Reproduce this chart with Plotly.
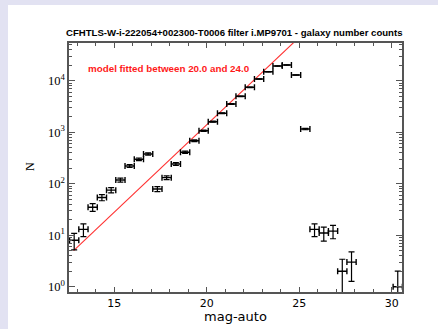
import numpy as np
import plotly.graph_objects as go

# ---- data ----
mag = [12.83, 13.33, 13.83, 14.33, 14.83, 15.33, 15.83, 16.33, 16.83, 17.33,
       17.83, 18.33, 18.83, 19.33, 19.83, 20.33, 20.83, 21.33, 21.83, 22.33,
       22.83, 23.33, 23.83, 24.33, 24.83, 25.33, 25.83, 26.33, 26.83, 27.33,
       27.83, 30.33]
counts = [8, 13, 35, 54, 75, 118, 221, 298, 378, 79,
          131, 241, 407, 684, 1070, 1600, 2330, 3530, 4980, 7450,
          10800, 14960, 19300, 20200, 12900, 1150, 13, 11, 12, 2,
          3, 1]
bin_half = 0.25
model_mag = [12.8, 24.7]
model_N = [5.0, 55000.0]

title = "CFHTLS-W-i-222054+002300-T0006 filter i.MP9701 - galaxy number counts"
note = "model fitted between 20.0 and 24.0"
xlabel = "mag-auto"
ylabel = "N"
ytickvals = [1, 10, 100, 1000, 10000]
yticktext = ["10<sup>0</sup>", "10<sup>1</sup>", "10<sup>2</sup>", "10<sup>3</sup>", "10<sup>4</sup>"]

N = np.array(counts, dtype=float)
err = np.sqrt(N)
err_minus = np.minimum(err, 0.999 * N)

# plot-area geometry in pixels (for layout only)
L, R, T, B, W, H = 69, 402, 43, 292, 438, 329
pw, ph = R - L, B - T
def px(x):
    return (x - L) / pw
def py(y):
    return (B - y) / ph

fig = go.Figure()
fig.add_trace(go.Scatter(
    x=model_mag, y=model_N, mode="lines",
    line=dict(color="#ff3030", width=1.1), showlegend=False, hoverinfo="skip"))
fig.add_trace(go.Scatter(
    x=mag, y=counts, mode="markers",
    marker=dict(size=1, color="black"),
    error_x=dict(type="constant", value=bin_half, color="black", thickness=1.4, width=3),
    error_y=dict(type="data", array=err, arrayminus=err_minus, symmetric=False,
                 color="black", thickness=1.2, width=3),
    showlegend=False))

axis_common = dict(showline=True, linecolor="#555555", linewidth=1.5, mirror="ticks",
                   ticks="inside", tickcolor="#555555", showgrid=False, zeroline=False,
                   automargin=False)

fig.update_xaxes(range=[12.55, 30.56], dtick=5, tick0=0, ticklen=5, tickwidth=1.2,
                 tickfont=dict(family="DejaVu Sans", size=11, color="black"),
                 minor=dict(dtick=1, ticks="inside", ticklen=3, tickcolor="#555555", tickwidth=1.2),
                 **axis_common)
fig.update_yaxes(type="log", range=[-0.103, 4.732], tickvals=ytickvals, ticktext=yticktext,
                 ticklen=6, tickwidth=1.2,
                 tickfont=dict(family="Liberation Serif", size=12.5, color="black"),
                 minor=dict(ticks="inside", ticklen=3, tickcolor="#555555", tickwidth=1,
                            tickvals=[v * k for v in ytickvals for k in range(2, 10)]),
                 **axis_common)

fig.add_shape(type="rect", xref="paper", yref="paper", x0=px(8), x1=px(W + 5), y0=py(H + 5), y1=py(5),
              fillcolor="white", line=dict(width=0), layer="below")

fig.add_annotation(text=note, xref="paper", yref="paper", x=px(86), y=py(68),
                   xanchor="left", yanchor="middle", showarrow=False,
                   font=dict(family="Liberation Sans", size=9.8, color="#ff1a1a", weight="bold"))
fig.add_annotation(text=title, xref="paper", yref="paper", x=px(234), y=py(33),
                   xanchor="center", yanchor="middle", showarrow=False,
                   font=dict(family="Liberation Sans", size=9.6, color="black", weight="bold"))
fig.add_annotation(text=xlabel, xref="paper", yref="paper", x=px(235), y=py(316),
                   xanchor="center", yanchor="middle", showarrow=False,
                   font=dict(family="DejaVu Sans", size=13, color="black"))
fig.add_annotation(text=ylabel, xref="paper", yref="paper", x=px(30), y=py(167),
                   xanchor="center", yanchor="middle", showarrow=False, textangle=-90,
                   font=dict(family="Liberation Serif", size=12, color="black"))

fig.update_layout(
    width=W, height=H,
    margin=dict(l=L, r=W - R, t=T, b=H - B),
    paper_bgcolor="#e2e2f2", plot_bgcolor="white",
)

fig.write_html("out.html", config={"displayModeBar": False},
               post_script="document.body.style.margin='0';document.body.style.overflow='hidden';")
